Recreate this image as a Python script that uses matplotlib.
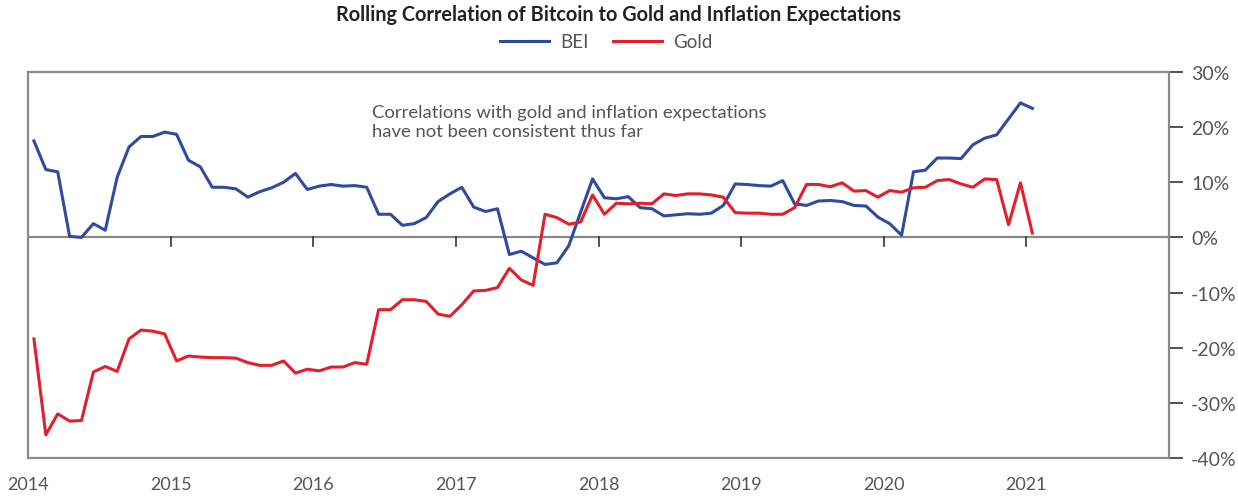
import numpy as np
import matplotlib
matplotlib.use("Agg")
import matplotlib.pyplot as plt

plt.rcParams['font.family'] = ['Lato', 'DejaVu Sans']

# monthly rolling correlations, Jan 2014 .. Jan 2021 (%)
bei = [17.5, 12.3, 11.9, 0.2, 0.0, 2.5, 1.3, 10.9, 16.4, 18.3, 18.3, 19.1, 18.7, 14.0, 12.8, 9.1, 9.1,
       8.8, 7.3, 8.3, 9.0, 10.0, 11.6, 8.7, 9.3, 9.6, 9.3, 9.4, 9.1, 4.2, 4.2, 2.2, 2.5,
       3.6, 6.5, 7.9, 9.1, 5.5, 4.7, 5.2, -3.1, -2.5, -3.7, -4.9, -4.6, -1.5, 4.6, 10.6, 7.2, 7.0,
       7.4, 5.4, 5.2, 3.9, 4.1, 4.3, 4.2, 4.4, 5.8, 9.7, 9.6, 9.4, 9.3, 10.3, 6.1, 5.8, 6.6,
       6.7, 6.5, 5.8, 5.7, 3.7, 2.5, 0.4, 11.9, 12.2, 14.4, 14.4, 14.3, 16.8, 18.0, 18.6, 21.5, 24.4, 23.4]
gold = [-18.4, -35.8, -32.0, -33.3, -33.2, -24.4, -23.4, -24.3, -18.4, -16.8, -17.0, -17.5, -22.4, -21.5, -21.7, -21.8, -21.8,
        -21.9, -22.7, -23.2, -23.2, -22.4, -24.6, -23.9, -24.2, -23.5, -23.5, -22.7, -23.0, -13.1, -13.1, -11.3, -11.3,
        -11.6, -13.9, -14.3, -12.2, -9.7, -9.6, -9.1, -5.6, -7.7, -8.7, 4.2, 3.6, 2.4, 2.8, 7.7, 4.2, 6.2,
        6.1, 6.2, 6.1, 7.9, 7.6, 7.9, 7.9, 7.7, 7.3, 4.5, 4.4, 4.4, 4.2, 4.2, 5.4, 9.6, 9.6,
        9.2, 9.9, 8.4, 8.5, 7.3, 8.5, 8.2, 9.0, 9.1, 10.3, 10.5, 9.7, 9.1, 10.6, 10.5, 2.3, 9.9, 0.8]
years = list(range(2014, 2022))
yticks = [30, 20, 10, 0, -10, -20, -30, -40]

x = 2014 + (np.arange(len(bei)) + 0.5) / 12

blue = '#2f4a9e'
red = '#e21f2b'
grey = '#8a8a8a'
txt = '#555555'

fig = plt.figure(figsize=(12.38, 5.02), dpi=100)
ax = fig.add_axes([28/1238, 1 - 459/502, (1169 - 28)/1238, (459 - 73)/502])

ax.plot(x, bei, color=blue, lw=2.2, label='BEI')
ax.plot(x, gold, color=red, lw=2.2, label='Gold')

ax.axhline(0, color=grey, lw=1.6, zorder=1)
for yr in years[1:]:
    ax.plot([yr, yr], [0, -1.6], color='#333333', lw=1.2, zorder=1)

ax.set_xlim(2014, 2022)
ax.set_ylim(-40, 30)
for s in ax.spines.values():
    s.set_color(grey)
    s.set_linewidth(1.6)

ax.set_xticks(years)
ax.set_xticklabels([str(y) for y in years], fontsize=13, color=txt)
ax.tick_params(axis='x', length=0, pad=13)

ax.yaxis.tick_right()
ax.set_yticks(yticks)
ax.set_yticklabels([f"{v}%" for v in yticks], fontsize=14, color=txt)
ax.tick_params(axis='y', length=10, width=1.2, color='#333333', pad=6)

ax.text(2016.41, 24.2, "Correlations with gold and inflation expectations\nhave not been consistent thus far",
        fontsize=13.3, color=txt, va='top', ha='left', linespacing=1.2)

fig.text(0.5, 0.97, "Rolling Correlation of Bitcoin to Gold and Inflation Expectations",
         ha='center', va='center', fontsize=14.3, fontweight='bold', color='#222222')
fig.legend(loc='center', bbox_to_anchor=(0.49, 0.915), ncol=2, frameon=False,
           prop={'size': 13.5},
           handlelength=2.6, handletextpad=0.6, columnspacing=1.3, labelcolor=txt)

fig.savefig('out.png', dpi=100)
